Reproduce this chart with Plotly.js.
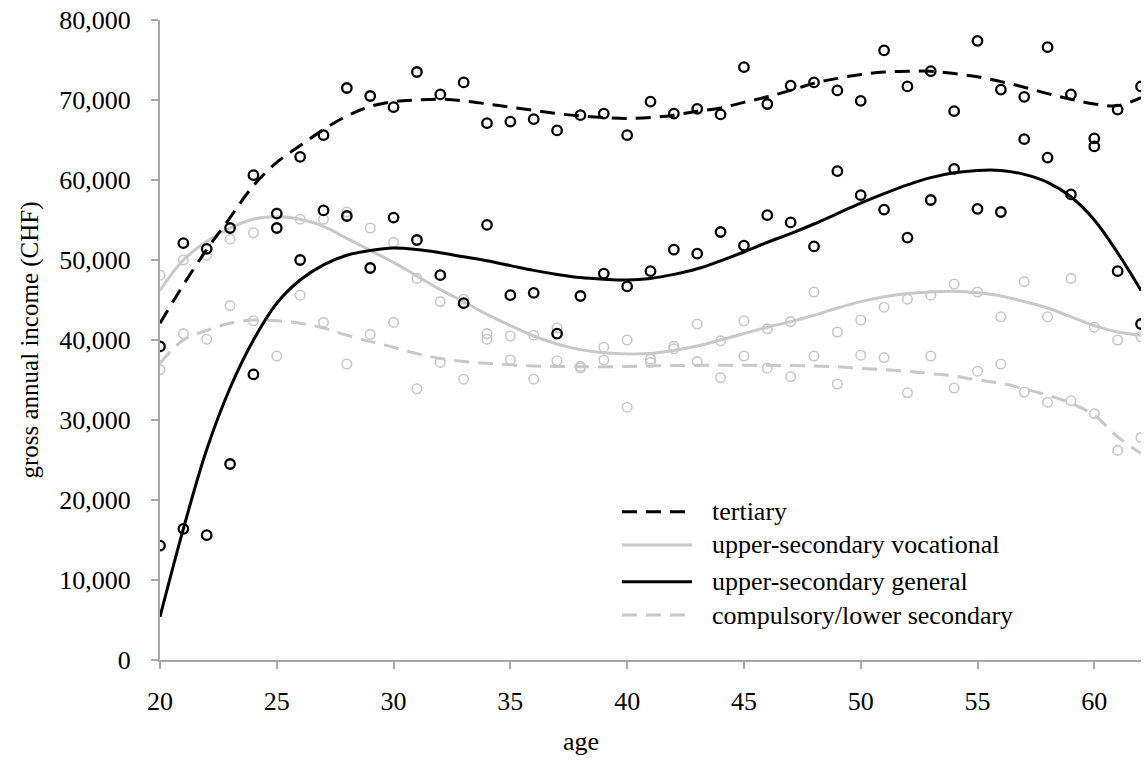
<!DOCTYPE html>
<html>
<head>
<meta charset="utf-8">
<script src="https://cdn.plot.ly/plotly-3.0.1.min.js"></script>
<style>
  html, body { margin: 0; padding: 0; background: #fff; }
  #chart { width: 1147px; height: 769px; }
</style>
</head>
<body>
<div id="chart"></div>
<script>
// ---- data ----
const ages = [20,21,22,23,24,25,26,27,28,29,30,31,32,33,34,35,36,37,38,39,40,41,42,43,44,45,46,47,48,49,50,51,52,53,54,55,56,57,58,59,60,61,62];

// observed mean incomes (CHF)
const tertiaryObs = [39200,52100,51400,54000,60600,55800,62900,65600,71500,70500,69100,73500,70700,72200,67100,67300,67600,66200,68100,68300,65600,69800,68300,68900,68200,74100,69500,71800,72200,71200,69900,76200,71700,73600,68600,77400,71300,70400,76600,70700,65200,68800,71700];
const generalObs = [14300,16400,15600,24500,35700,54000,50000,56200,55500,49000,55300,52500,48100,44600,54400,45600,45900,40800,45500,48300,46700,48600,51300,50800,53500,51800,55600,54700,51700,61100,58100,56300,52800,57500,61400,56400,56000,65100,62800,58200,64200,48600,42000];
const vocationalObs = [48100,50000,50600,52600,53400,55900,55100,55100,56000,54000,52200,47700,44800,45100,40800,40500,40600,41500,36700,39100,40000,37600,39200,42000,39900,42400,41400,42300,46000,41000,42500,44100,45100,45600,47000,46000,42900,47300,42900,47700,41600,40000,40400];
const compulsoryObs = [36300,40800,40100,44300,42400,38000,45600,42200,37000,40700,42200,33900,37200,35100,40100,37500,35100,37400,36500,37500,31600,37200,38900,37300,35300,38000,36500,35400,38000,34500,38100,37800,33400,38000,34000,36100,37000,33500,32200,32400,30800,26200,27800];

// fitted curves at each age
const tertiaryFit = [42100,46900,51300,55300,59300,62200,64300,66300,68000,69200,69800,70000,70100,69900,69500,69100,68700,68300,68000,67800,67700,67800,68100,68600,69000,69700,70400,71200,72100,72700,73200,73500,73600,73600,73300,72900,72300,71600,70800,70100,69500,69300,70300];
const generalFit = [5400,16400,26300,34000,40000,44600,47500,49400,50600,51200,51500,51300,50900,50400,49900,49300,48700,48200,47800,47600,47500,47700,48200,48900,49900,51000,52200,53300,54500,55800,57100,58300,59400,60300,60900,61200,61200,60700,59700,57900,55000,50900,46200];
const vocationalFit = [46200,50000,52300,54000,55100,55400,55100,54200,52700,51200,49700,48000,46300,44800,43200,41800,40500,39500,38800,38400,38250,38300,38700,39250,40000,40800,41600,42300,43100,44000,44800,45400,45800,46000,46100,45900,45500,44800,44000,42900,41800,41000,40600];
const compulsoryFit = [37100,40000,41200,42100,42500,42400,42100,41500,40600,39800,39100,38300,37700,37300,37100,36900,36750,36700,36650,36650,36700,36750,36800,36850,36850,36850,36850,36800,36750,36650,36450,36300,36100,35800,35500,35000,34600,33900,33100,32100,30600,27900,25800];

const legendLabels = ["tertiary","upper-secondary vocational","upper-secondary general","compulsory/lower secondary"];
const xTitle = "age";
const yTitle = "gross annual income (CHF)";

// ---- styles ----
const BLACK = "#000000";
const GRAY = "#c8c8c8";
const AXIS = "#a6a6a6";
const FONT = "Liberation Serif, Times New Roman, serif";
const DASH = "15px,9px";

function pts(y, color, size, lw) {
  return { x: ages, y: y, type: "scatter", mode: "markers", showlegend: false, hoverinfo: "skip",
    marker: { symbol: "circle-open", size: size, color: color, line: { width: lw, color: color } } };
}
function fit(y, color, dash) {
  return { x: ages, y: y, type: "scatter", mode: "lines", showlegend: false, hoverinfo: "skip",
    line: { color: color, width: 3, dash: dash, shape: "spline", smoothing: 1 } };
}

const traces = [
  pts(compulsoryObs, GRAY, 9.5, 1.6),
  pts(vocationalObs, GRAY, 9.5, 1.6),
  fit(compulsoryFit, GRAY, DASH),
  fit(vocationalFit, GRAY, "solid"),
  pts(generalObs, BLACK, 9.5, 2.3),
  pts(tertiaryObs, BLACK, 9.5, 2.3),
  fit(generalFit, BLACK, "solid"),
  fit(tertiaryFit, BLACK, DASH)
];

// ---- custom legend (paper coordinates) ----
const legendStyles = [
  { color: BLACK, dash: DASH },
  { color: GRAY, dash: "solid" },
  { color: BLACK, dash: "solid" },
  { color: GRAY, dash: DASH }
];
const legendRowsY = [0.2317, 0.1797, 0.1223, 0.0703];
const shapes = [];
const annotations = [];
legendLabels.forEach((lab, i) => {
  shapes.push({ type: "line", xref: "paper", yref: "paper", x0: 0.4709, x1: 0.5423, y0: legendRowsY[i], y1: legendRowsY[i],
    line: { color: legendStyles[i].color, width: 3, dash: legendStyles[i].dash } });
  annotations.push({ xref: "paper", yref: "paper", x: 0.5607, y: legendRowsY[i], xanchor: "left", yanchor: "middle",
    text: lab, showarrow: false, font: { family: FONT, size: 26, color: "#000" } });
});
annotations.push({ xref: "paper", yref: "paper", x: (581 - 160) / 981, y: (660 - 741) / 640, xanchor: "center", yanchor: "middle",
  text: xTitle, showarrow: false, font: { family: FONT, size: 26, color: "#000" } });

const layout = {
  width: 1147, height: 769,
  margin: { l: 160, r: 6, t: 20, b: 109 },
  paper_bgcolor: "#fff", plot_bgcolor: "#fff",
  font: { family: FONT, size: 26, color: "#000" },
  showlegend: false,
  xaxis: {
    range: [20, 62], tickmode: "linear", tick0: 20, dtick: 5,
    showgrid: false, zeroline: false, showline: true, linecolor: AXIS, linewidth: 2,
    ticks: "outside", ticklen: 7, tickwidth: 2, tickcolor: AXIS, ticklabelstandoff: 10,
    tickfont: { family: FONT, size: 26, color: "#000" }
  },
  yaxis: {
    range: [0, 80000], tickmode: "linear", tick0: 0, dtick: 10000, tickformat: ",d",
    showgrid: false, zeroline: false, showline: true, linecolor: AXIS, linewidth: 2,
    ticks: "outside", ticklen: 7, tickwidth: 2, tickcolor: AXIS, ticklabelstandoff: 15,
    tickfont: { family: FONT, size: 26, color: "#000" },
    title: { text: yTitle, standoff: 14, font: { family: FONT, size: 25, color: "#000" } }
  },
  shapes: shapes,
  annotations: annotations
};

Plotly.newPlot("chart", traces, layout, { displayModeBar: false, staticPlot: true });
</script>
</body>
</html>
